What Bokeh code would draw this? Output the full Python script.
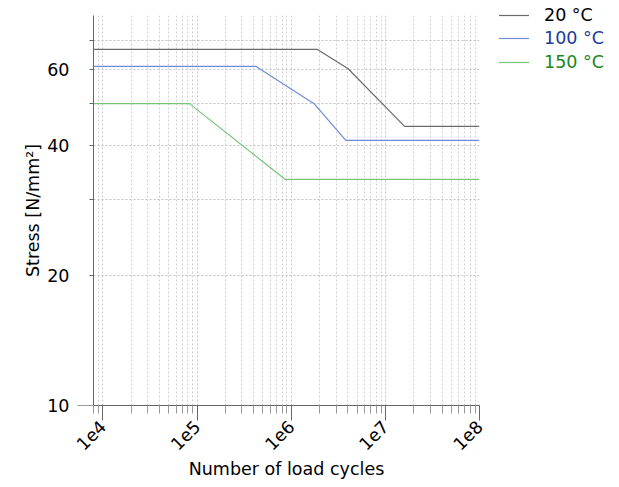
import math
from bokeh.plotting import figure
from bokeh.layouts import row
from bokeh.models import FixedTicker, Range1d, BasicTickFormatter, Div
from bokeh.embed import file_html
from bokeh.resources import INLINE

# ---- data ----
series_names = ["20 °C", "100 °C", "150 °C"]
cycles_20 = [7950, 1.88e6, 4.0e6, 1.6e7, 1e8]
stress_20 = [66.8, 66.8, 60.3, 44.3, 44.3]
cycles_100 = [7950, 4.2e5, 1.75e6, 3.8e6, 1e8]
stress_100 = [61.0, 61.0, 50.0, 41.1, 41.1]
cycles_150 = [7950, 8.3e4, 8.6e5, 1e8]
stress_150 = [50.0, 50.0, 33.4, 33.4]

x_major = [10000, 100000, 1000000, 10000000, 100000000]
x_labels = ["1e4", "1e5", "1e6", "1e7", "1e8"]
y_ticks = [10, 20, 30, 40, 50, 60, 70]
y_labels = ["10", "20", "", "40", "", "60", ""]

line_colors = ["#6b6b6b", "#6f8cd8", "#77c477"]
text_colors = ["#000000", "#1a3a9e", "#1a881a"]

FONT = "DejaVu Sans"
FS = "17.5px"

H = 485
MAIN_W = 487
LEG_W = 128
FRAME_TOP = 15

p = figure(width=MAIN_W, height=H, x_axis_type="log", y_axis_type="log",
           x_range=Range1d(7950, 1e8), y_range=Range1d(10, 80),
           output_backend="svg", toolbar_location=None,
           min_border_left=93, min_border_right=8, min_border_top=FRAME_TOP,
           min_border_bottom=80)
p.outline_line_color = None

x_minor = [m * 10 ** e for e in range(3, 8) for m in range(2, 10)]
p.xaxis.ticker = FixedTicker(ticks=x_major, minor_ticks=x_minor)
p.yaxis.ticker = FixedTicker(ticks=y_ticks, minor_ticks=[10])
p.xaxis.formatter = BasicTickFormatter()
p.yaxis.formatter = BasicTickFormatter()
p.xaxis.major_label_overrides = {t: l for t, l in zip(x_major, x_labels)}
p.yaxis.major_label_overrides = {t: l for t, l in zip(y_ticks, y_labels)}
p.xaxis.major_label_orientation = math.pi / 4

for ax in (p.xaxis[0], p.yaxis[0]):
    ax.axis_line_color = "#666666"
    ax.major_tick_line_color = "#666666"
    ax.minor_tick_line_color = "#999999"
    ax.major_tick_in = 0
    ax.minor_tick_in = 0
    ax.major_label_text_font = FONT
    ax.major_label_text_font_size = FS
    ax.major_label_text_color = "#000000"
    ax.axis_label_text_font = FONT
    ax.axis_label_text_font_size = FS
    ax.axis_label_text_font_style = "normal"
    ax.axis_label_text_color = "#000000"

p.xaxis.major_tick_out = 15
p.xaxis.minor_tick_out = 8
p.xaxis.major_label_standoff = 3
p.xaxis.axis_label = "Number of load cycles"
p.xaxis.axis_label_standoff = 0

p.yaxis.major_tick_out = 4
p.yaxis.minor_tick_out = 16
p.yaxis.major_label_standoff = 8
p.yaxis.axis_label = "Stress [N/mm²]"
p.yaxis.axis_label_standoff = 1

p.xgrid.grid_line_color = "#c8c8c8"
p.xgrid.grid_line_dash = "2 2"
p.xgrid.minor_grid_line_color = "#d0d0d0"
p.xgrid.minor_grid_line_dash = "2 2"
p.ygrid.grid_line_color = "#c0c0c0"
p.ygrid.grid_line_dash = "2 2"

xs = [cycles_20, cycles_100, cycles_150]
ys = [stress_20, stress_100, stress_150]
for x, y, c in zip(xs, ys, line_colors):
    p.line(x, y, line_color=c, line_width=1.2)

# ---- legend beside the chart (each entry with its own text colour) ----
row_pitch = 23.3
entries = []
for i, (name, c, tc) in enumerate(zip(series_names, line_colors, text_colors)):
    top = FRAME_TOP + i * row_pitch - 7
    entries.append(
        f'<div style="position:absolute;left:12px;top:{top:.1f}px;height:14px;'
        f'display:flex;align-items:center;white-space:nowrap;">'
        f'<svg width="30" height="14" style="display:block">'
        f'<line x1="0" y1="7.5" x2="30" y2="7.5" stroke="{c}" stroke-width="1.2"/></svg>'
        f'<span style="margin-left:15px;color:{tc};line-height:14px;">{name}</span></div>'
    )
legend_html = (f'<div style="position:relative;width:{LEG_W}px;height:{H}px;'
               f'font-family:\'{FONT}\';font-size:{FS};">' + "".join(entries) + "</div>")
legend = Div(text=legend_html, width=LEG_W, height=H, margin=(0, 0, 0, 0))

layout = row(p, legend, spacing=0)

with open("out.html", "w") as f:
    f.write(file_html(layout, INLINE))
